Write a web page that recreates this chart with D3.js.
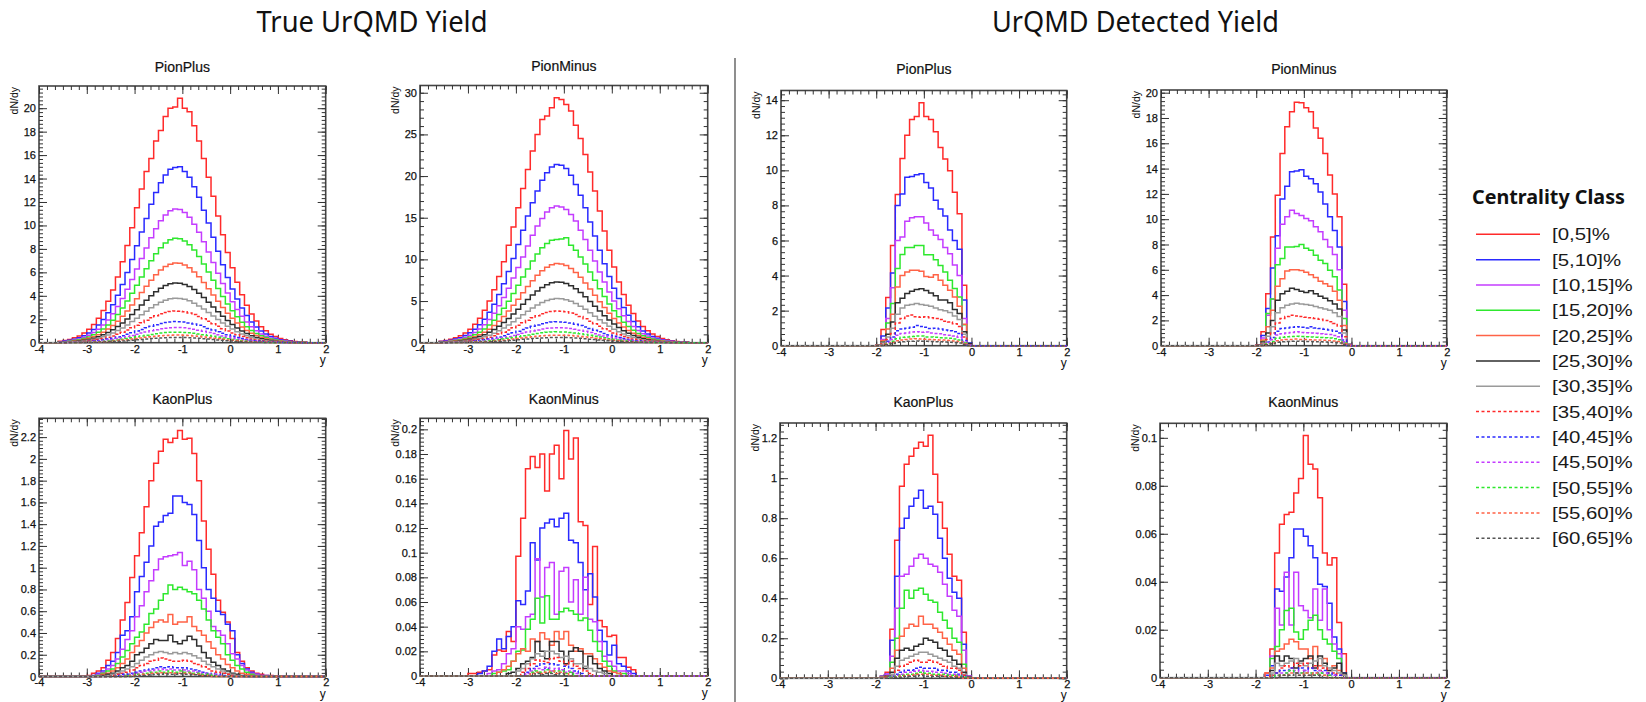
<!DOCTYPE html>
<html>
<head>
<meta charset="utf-8">
<script src="https://cdn.jsdelivr.net/npm/d3@7"></script>
<style>
  html, body { margin: 0; padding: 0; background: #fff; }
  svg { display: block; }
</style>
</head>
<body>
<svg id="chart" width="1646" height="702"></svg>
<script>
// ---------------- data ----------------
const centralityClasses = ["[0,5]%", "[5,10]%", "[10,15]%", "[15,20]%", "[20,25]%", "[25,30]%", "[30,35]%",
                           "[35,40]%", "[40,45]%", "[45,50]%", "[50,55]%", "[55,60]%", "[60,65]%"];
const groupTitles = ["True UrQMD Yield", "UrQMD Detected Yield"];
const panelTitles = ["PionPlus", "PionMinus", "PionPlus", "PionMinus", "KaonPlus", "KaonMinus", "KaonPlus", "KaonMinus"];
const rapidityRange = [-4, 2];
const binWidth = 0.1;
const xTicks = [-4, -3, -2, -1, 0, 1, 2];
const yTickSteps = [2, 5, 2, 2, 0.2, 0.02, 0.2, 0.02];
const xAxisTitle = "y";
const yAxisTitle = "dN/dy";

// true yields, pi+ (bins from y = -3.6, width 0.1)
const truePionPlusStart = -3.6;
const truePionPlus = [
  [0.12,0.19,0.28,0.42,0.58,0.83,1.15,1.56,2.08,2.75,3.54,4.5,5.6,6.9,8.3,9.8,11.5,13.1,14.6,15.7,17.2,18.1,19.3,20.0,20.1,20.85,20.0,19.7,18.5,17.2,15.7,14.1,12.5,10.8,9.2,7.7,6.4,5.15,4.1,3.2,2.45,1.85,1.37,1.02,0.73,0.52,0.35,0.25,0.17,0.1,0.06,0.04],
  [0.09,0.14,0.2,0.3,0.42,0.6,0.83,1.13,1.5,1.98,2.55,3.24,4.05,4.97,5.99,7.1,8.27,9.45,10.6,11.8,12.8,13.65,14.3,14.8,14.95,15.0,14.6,14.1,13.3,12.4,11.3,10.2,9.0,7.8,6.65,5.57,4.59,3.72,2.96,2.31,1.77,1.34,0.99,0.74,0.53,0.38,0.26,0.18,0.12,0.08,0.05,0.03],
  [0.07,0.1,0.15,0.23,0.32,0.46,0.63,0.86,1.14,1.5,1.94,2.46,3.08,3.77,4.55,5.39,6.28,7.18,8.08,8.94,9.71,10.4,10.9,11.25,11.4,11.35,11.1,10.7,10.1,9.42,8.61,7.73,6.83,5.92,5.05,4.23,3.49,2.83,2.25,1.76,1.35,1.01,0.75,0.56,0.4,0.29,0.19,0.14,0.09,0.06,0.03,0.02],
  [0.05,0.08,0.12,0.18,0.25,0.36,0.49,0.67,0.89,1.17,1.51,1.92,2.4,2.95,3.55,4.21,4.9,5.61,6.31,6.98,7.58,8.1,8.5,8.78,8.9,8.86,8.68,8.36,7.9,7.35,6.72,6.03,5.33,4.62,3.94,3.3,2.72,2.21,1.75,1.37,1.05,0.79,0.59,0.44,0.31,0.22,0.15,0.11,0.07,0.04,0.03,0.02],
  [0.04,0.06,0.09,0.14,0.19,0.27,0.37,0.51,0.68,0.9,1.16,1.47,1.84,2.25,2.71,3.22,3.75,4.28,4.82,5.33,5.79,6.19,6.49,6.7,6.8,6.77,6.63,6.39,6.04,5.62,5.13,4.61,4.07,3.53,3.01,2.52,2.08,1.69,1.34,1.05,0.8,0.61,0.45,0.33,0.24,0.17,0.12,0.08,0.05,0.03,0.02,0.01],
  [0.03,0.05,0.07,0.1,0.14,0.2,0.28,0.38,0.51,0.67,0.87,1.1,1.38,1.69,2.03,2.41,2.81,3.21,3.62,4.0,4.35,4.64,4.87,5.03,5.1,5.08,4.97,4.79,4.53,4.21,3.85,3.46,3.05,2.65,2.26,1.89,1.56,1.26,1.0,0.79,0.6,0.45,0.34,0.25,0.18,0.13,0.09,0.06,0.04,0.03,0.02,0.01],
  [0.02,0.03,0.05,0.08,0.11,0.15,0.21,0.29,0.38,0.5,0.65,0.82,1.03,1.26,1.52,1.8,2.09,2.39,2.69,2.98,3.24,3.46,3.63,3.75,3.8,3.78,3.71,3.57,3.37,3.14,2.87,2.58,2.28,1.97,1.68,1.41,1.16,0.94,0.75,0.59,0.45,0.34,0.25,0.19,0.13,0.1,0.06,0.05,0.03,0.02,0.01,0.01],
  [0.02,0.02,0.04,0.05,0.08,0.11,0.15,0.2,0.27,0.36,0.46,0.58,0.73,0.89,1.08,1.28,1.49,1.7,1.91,2.12,2.3,2.46,2.58,2.66,2.7,2.69,2.63,2.54,2.4,2.23,2.04,1.83,1.62,1.4,1.2,1.0,0.83,0.67,0.53,0.42,0.32,0.24,0.18,0.13,0.09,0.07,0.05,0.03,0.02,0.01,0.01,0.01],
  [0.01,0.02,0.02,0.04,0.05,0.07,0.1,0.14,0.18,0.24,0.31,0.39,0.49,0.6,0.72,0.85,0.99,1.13,1.28,1.41,1.53,1.64,1.72,1.77,1.8,1.79,1.76,1.69,1.6,1.49,1.36,1.22,1.08,0.93,0.8,0.67,0.55,0.45,0.35,0.28,0.21,0.16,0.12,0.09,0.06,0.05,0.03,0.02,0.01,0.01,0.01],
  [0.01,0.01,0.02,0.03,0.04,0.05,0.07,0.1,0.13,0.17,0.22,0.28,0.35,0.43,0.52,0.61,0.72,0.82,0.92,1.02,1.11,1.18,1.24,1.28,1.3,1.29,1.27,1.22,1.15,1.07,0.98,0.88,0.78,0.67,0.58,0.48,0.4,0.32,0.26,0.2,0.15,0.12,0.09,0.06,0.05,0.03,0.02,0.02,0.01,0.01],
  [0,0.01,0.01,0.02,0.03,0.04,0.05,0.07,0.09,0.12,0.15,0.19,0.24,0.3,0.36,0.43,0.5,0.57,0.64,0.71,0.77,0.82,0.86,0.89,0.9,0.9,0.88,0.85,0.8,0.74,0.68,0.61,0.54,0.47,0.4,0.33,0.28,0.22,0.18,0.14,0.11,0.08,0.06,0.04,0.03,0.02,0.02,0.01,0.01],
  [0,0,0.01,0.01,0.02,0.03,0.04,0.05,0.07,0.09,0.11,0.14,0.18,0.22,0.26,0.31,0.36,0.41,0.46,0.51,0.55,0.59,0.62,0.64,0.65,0.65,0.63,0.61,0.58,0.54,0.49,0.44,0.39,0.34,0.29,0.24,0.2,0.16,0.13,0.1,0.08,0.06,0.04,0.03,0.02,0.02,0.01,0.01],
  [0,0,0.01,0.01,0.01,0.02,0.02,0.03,0.05,0.06,0.08,0.1,0.12,0.15,0.18,0.21,0.25,0.28,0.32,0.35,0.38,0.41,0.43,0.44,0.45,0.45,0.44,0.42,0.4,0.37,0.34,0.31,0.27,0.23,0.2,0.17,0.14,0.11,0.09,0.07,0.05,0.04,0.03,0.02,0.02,0.01,0.01,0.01]
];

// true yields, pi-
const truePionMinusStart = -3.6;
const truePionMinus = [
  [0.18,0.26,0.4,0.59,0.82,1.17,1.62,2.2,2.94,3.88,5.0,6.35,7.94,9.73,11.7,13.9,16.2,18.5,20.8,23.0,25.0,26.8,27.2,28.2,29.4,29.2,28.6,27.8,26.1,24.5,22.6,20.5,18.2,15.8,13.4,11.1,9.1,7.3,5.8,4.5,3.5,2.6,1.94,1.44,1.03,0.74,0.5,0.35,0.24,0.15,0.09,0.06],
  [0.13,0.19,0.29,0.43,0.6,0.86,1.18,1.61,2.14,2.82,3.64,4.62,5.78,7.08,8.54,10.1,11.8,13.5,15.2,16.8,18.2,19.5,20.4,21.1,21.4,21.3,20.9,20.1,19.0,17.7,16.2,14.5,12.8,11.1,9.48,7.94,6.55,5.31,4.22,3.3,2.53,1.9,1.41,1.05,0.75,0.54,0.36,0.26,0.17,0.11,0.06,0.04],
  [0.1,0.15,0.22,0.33,0.46,0.66,0.9,1.23,1.64,2.16,2.79,3.54,4.43,5.43,6.54,7.76,9.04,10.3,11.6,12.9,14.0,14.9,15.7,16.2,16.4,16.3,16.0,15.4,14.6,13.5,12.4,11.1,9.8,8.5,7.3,6.1,5.0,4.07,3.23,2.53,1.94,1.46,1.08,0.8,0.57,0.41,0.28,0.2,0.13,0.08,0.05,0.03],
  [0.08,0.11,0.17,0.25,0.35,0.5,0.69,0.94,1.25,1.65,2.13,2.7,3.38,4.14,4.99,5.91,6.89,7.88,8.86,9.8,10.65,11.4,11.9,12.3,12.4,12.45,12.6,11.7,11.1,10.3,9.44,8.48,7.49,6.49,5.54,4.64,3.83,3.1,2.46,1.93,1.48,1.11,0.83,0.61,0.44,0.31,0.21,0.15,0.1,0.06,0.04,0.03],
  [0.06,0.09,0.13,0.19,0.27,0.38,0.52,0.71,0.95,1.25,1.62,2.05,2.57,3.14,3.79,4.49,5.23,5.99,6.74,7.45,8.09,8.65,9.07,9.37,9.5,9.46,9.26,8.92,8.44,7.85,7.17,6.44,5.69,4.93,4.21,3.52,2.91,2.36,1.87,1.46,1.12,0.85,0.63,0.47,0.33,0.24,0.16,0.11,0.08,0.05,0.03,0.02],
  [0.04,0.07,0.1,0.15,0.2,0.29,0.4,0.55,0.73,0.96,1.24,1.58,1.97,2.42,2.91,3.45,4.02,4.6,5.18,5.72,6.22,6.64,6.97,7.2,7.3,7.27,7.12,6.85,6.48,6.03,5.51,4.95,4.37,3.79,3.23,2.71,2.23,1.81,1.44,1.12,0.86,0.65,0.48,0.36,0.26,0.18,0.12,0.09,0.06,0.04,0.02,0.01],
  [0.03,0.05,0.07,0.11,0.15,0.21,0.29,0.4,0.53,0.7,0.9,1.14,1.43,1.75,2.11,2.51,2.92,3.34,3.76,4.16,4.52,4.82,5.06,5.23,5.3,5.28,5.17,4.98,4.71,4.38,4.0,3.59,3.17,2.75,2.35,1.97,1.62,1.31,1.04,0.82,0.63,0.47,0.35,0.26,0.19,0.13,0.09,0.06,0.04,0.03,0.02,0.01],
  [0.02,0.03,0.05,0.08,0.11,0.15,0.21,0.29,0.38,0.5,0.65,0.82,1.03,1.26,1.52,1.8,2.09,2.39,2.69,2.98,3.24,3.46,3.63,3.75,3.8,3.78,3.71,3.57,3.37,3.14,2.87,2.58,2.28,1.97,1.68,1.41,1.16,0.94,0.75,0.59,0.45,0.34,0.25,0.19,0.13,0.1,0.06,0.05,0.03,0.02,0.01,0.01],
  [0.02,0.02,0.03,0.05,0.07,0.1,0.14,0.19,0.25,0.33,0.43,0.54,0.68,0.83,1.0,1.18,1.38,1.58,1.77,1.96,2.13,2.28,2.39,2.47,2.5,2.49,2.44,2.35,2.22,2.07,1.89,1.7,1.5,1.3,1.11,0.93,0.77,0.62,0.49,0.39,0.3,0.22,0.17,0.12,0.09,0.06,0.04,0.03,0.02,0.01,0.01,0.01],
  [0.01,0.02,0.02,0.04,0.05,0.07,0.1,0.14,0.18,0.24,0.31,0.39,0.49,0.6,0.72,0.85,0.99,1.13,1.28,1.41,1.53,1.64,1.72,1.77,1.8,1.79,1.76,1.69,1.6,1.49,1.36,1.22,1.08,0.93,0.8,0.67,0.55,0.45,0.35,0.28,0.21,0.16,0.12,0.09,0.06,0.05,0.03,0.02,0.01,0.01,0.01],
  [0.01,0.01,0.02,0.03,0.04,0.05,0.07,0.1,0.13,0.17,0.22,0.28,0.35,0.43,0.52,0.61,0.72,0.82,0.92,1.02,1.11,1.18,1.24,1.28,1.3,1.29,1.27,1.22,1.15,1.07,0.98,0.88,0.78,0.67,0.58,0.48,0.4,0.32,0.26,0.2,0.15,0.12,0.09,0.06,0.05,0.03,0.02,0.02,0.01,0.01],
  [0,0.01,0.01,0.02,0.03,0.04,0.05,0.07,0.09,0.12,0.15,0.19,0.24,0.3,0.36,0.43,0.5,0.57,0.64,0.71,0.77,0.82,0.86,0.89,0.9,0.9,0.88,0.85,0.8,0.74,0.68,0.61,0.54,0.47,0.4,0.33,0.28,0.22,0.18,0.14,0.11,0.08,0.06,0.04,0.03,0.02,0.02,0.01,0.01],
  [0,0,0.01,0.01,0.02,0.03,0.04,0.05,0.07,0.09,0.11,0.14,0.17,0.21,0.25,0.3,0.35,0.4,0.44,0.49,0.53,0.57,0.6,0.62,0.62,0.62,0.61,0.59,0.56,0.52,0.47,0.42,0.37,0.32,0.28,0.23,0.19,0.15,0.12,0.1,0.08,0.06,0.04,0.03,0.02,0.02,0.01,0.01]
];

// true yields, K+ (each row has its own first bin edge)
const trueKaonPlusStart = [-3.1, -2.9, -2.8, -2.8, -2.7, -2.7, -2.6, -2.5, -2.4, -2.3, -2.2, -2.1, -2.0];
const trueKaonPlus = [
  [0.005,0.01,0.03,0.05,0.08,0.15,0.22,0.35,0.52,0.68,0.91,1.11,1.32,1.56,1.8,1.96,2.07,2.18,2.15,2.19,2.26,2.18,2.19,2.05,1.8,1.43,1.17,0.94,0.7,0.59,0.5,0.35,0.22,0.14,0.08,0.05,0.03,0.02,0.01,0.01,0.005],
  [0.01,0.03,0.05,0.1,0.14,0.22,0.38,0.42,0.55,0.78,0.92,1.05,1.2,1.38,1.42,1.48,1.5,1.66,1.66,1.6,1.58,1.49,1.25,1.0,0.8,0.72,0.6,0.57,0.48,0.42,0.2,0.12,0.07,0.04,0.02,0.01,0.01,0.005],
  [0.02,0.04,0.07,0.1,0.16,0.25,0.34,0.42,0.55,0.65,0.78,0.88,0.98,1.08,1.1,1.11,1.12,1.14,1.02,1.06,0.98,0.8,0.72,0.6,0.46,0.42,0.38,0.3,0.21,0.16,0.1,0.06,0.03,0.02,0.01],
  [0.01,0.03,0.05,0.07,0.12,0.18,0.24,0.3,0.36,0.41,0.48,0.58,0.62,0.7,0.76,0.84,0.8,0.82,0.8,0.78,0.76,0.7,0.62,0.52,0.42,0.36,0.3,0.2,0.15,0.1,0.07,0.04,0.02,0.01],
  [0.02,0.03,0.05,0.08,0.12,0.16,0.22,0.28,0.33,0.4,0.45,0.5,0.52,0.5,0.57,0.48,0.5,0.5,0.55,0.46,0.42,0.38,0.32,0.26,0.2,0.16,0.11,0.08,0.05,0.03,0.02,0.01],
  [0.01,0.02,0.03,0.05,0.08,0.1,0.14,0.2,0.22,0.26,0.3,0.34,0.33,0.33,0.38,0.32,0.3,0.33,0.37,0.34,0.28,0.22,0.17,0.13,0.1,0.07,0.05,0.03,0.02,0.01],
  [0.01,0.02,0.03,0.05,0.07,0.09,0.12,0.15,0.18,0.2,0.22,0.23,0.22,0.21,0.22,0.21,0.22,0.21,0.19,0.17,0.14,0.11,0.09,0.07,0.05,0.03,0.02,0.01],
  [0.01,0.02,0.03,0.04,0.06,0.08,0.1,0.12,0.14,0.15,0.17,0.16,0.15,0.14,0.14,0.15,0.14,0.12,0.11,0.09,0.07,0.05,0.04,0.03,0.02,0.01],
  [0.01,0.02,0.02,0.03,0.04,0.05,0.06,0.07,0.08,0.09,0.08,0.09,0.08,0.08,0.08,0.07,0.06,0.05,0.04,0.03,0.02,0.02,0.01],
  [0.01,0.01,0.02,0.03,0.04,0.05,0.05,0.06,0.07,0.06,0.07,0.06,0.06,0.06,0.05,0.05,0.04,0.03,0.02,0.02,0.01],
  [0.01,0.01,0.02,0.02,0.03,0.04,0.04,0.05,0.04,0.05,0.04,0.05,0.04,0.04,0.03,0.03,0.02,0.02,0.01],
  [0.01,0.01,0.02,0.02,0.03,0.03,0.035,0.03,0.035,0.03,0.03,0.03,0.03,0.02,0.02,0.01,0.01],
  [0.005,0.01,0.01,0.015,0.02,0.02,0.025,0.02,0.02,0.025,0.02,0.02,0.015,0.01,0.01,0.005]
];

// true yields, K-
const trueKaonMinusStart = -3.0;
const trueKaonMinus = [
  [0.002,0.002,0.003,0.004,0.005,0.017,0.021,0.02,0.036,0.028,0.097,0.128,0.168,0.178,0.169,0.18,0.15,0.18,0.187,0.16,0.199,0.176,0.193,0.125,0.122,0.058,0.105,0.045,0.04,0.032,0.033,0.015,0.015,0.007,0.005],
  [0,0,0.002,0.004,0.008,0.02,0.03,0.022,0.032,0.04,0.061,0.058,0.069,0.108,0.094,0.12,0.124,0.127,0.121,0.128,0.132,0.11,0.108,0.092,0.07,0.083,0.064,0.037,0.028,0.017,0.025,0.01,0.008,0.004,0.002],
  [0,0,0,0,0.002,0.004,0.005,0.01,0.018,0.022,0.04,0.038,0.048,0.05,0.095,0.064,0.088,0.092,0.05,0.085,0.088,0.06,0.078,0.05,0.08,0.046,0.044,0.028,0.016,0.012,0.008,0.004,0.004,0.002],
  [0,0,0,0,0,0.002,0.003,0.004,0.005,0.012,0.02,0.021,0.038,0.046,0.063,0.043,0.065,0.046,0.046,0.052,0.055,0.053,0.05,0.045,0.047,0.037,0.028,0.02,0.012,0.008,0.004,0.002,0.002],
  [0,0,0,0,0,0,0.003,0.005,0.008,0.012,0.018,0.022,0.02,0.03,0.028,0.035,0.03,0.025,0.036,0.03,0.036,0.025,0.02,0.022,0.018,0.018,0.014,0.01,0.007,0.004,0.003,0.002],
  [0,0,0,0,0,0,0,0,0.002,0.003,0.006,0.01,0.012,0.015,0.028,0.02,0.014,0.028,0.028,0.02,0.01,0.02,0.023,0.02,0.006,0.016,0.01,0.006,0.004,0.002],
  [0,0,0,0,0,0,0,0,0,0,0.004,0.006,0.01,0.014,0.018,0.016,0.02,0.02,0.018,0.015,0.016,0.014,0.01,0.01,0.008,0.006,0.004,0.003,0.002],
  [0,0,0,0,0,0,0,0,0,0,0,0.003,0.006,0.01,0.013,0.012,0.011,0.014,0.015,0.012,0.009,0.012,0.008,0.006,0.004,0.002],
  [0,0,0,0,0,0,0,0,0,0,0,0,0.003,0.006,0.008,0.01,0.006,0.01,0.009,0.005,0.008,0.006,0.004,0.002],
  [0,0,0,0,0,0,0,0,0,0,0,0,0.002,0.004,0.006,0.005,0.007,0.004,0.006,0.005,0.003,0.004,0.002],
  [0,0,0,0,0,0,0,0,0,0,0,0,0,0.003,0.004,0.003,0.005,0.003,0.004,0.004,0.002,0.003],
  [0,0,0,0,0,0,0,0,0,0,0,0,0,0.002,0.003,0.002,0.003,0.004,0.002,0.003,0.002],
  [0,0,0,0,0,0,0,0,0,0,0,0,0,0,0.002,0.001,0.002,0.002,0.001,0.002]
];

// detected yields, pi+ (bins from y = -2.0)
const detPionPlusStart = -2.0;
const detPionPlus = [
  [0.05,0.93,2.75,5.72,8.62,10.68,12.0,12.9,13.07,13.86,13.07,12.9,12.2,11.3,10.64,9.98,8.75,7.52,3.45,0.1],
  [0.03,0.55,2.15,4.15,8.0,8.65,9.6,9.65,9.75,9.8,9.3,9.0,8.3,7.8,7.4,6.6,6.0,5.5,2.6,0.15],
  [0.02,0.35,1.55,3.3,6.0,6.2,7.1,7.3,7.36,7.36,7.0,6.6,6.3,6.05,5.6,5.25,4.6,4.0,1.55,0.1],
  [0.02,0.2,1.3,2.4,4.4,5.2,5.6,5.6,5.72,5.72,5.19,5.19,4.9,4.58,4.2,3.73,3.26,2.78,1.2,0.08],
  [0.01,0.3,0.95,1.8,3.35,4.0,4.2,4.3,4.3,4.25,3.95,3.9,4.05,3.73,3.45,3.16,2.78,2.25,1.23,0.05],
  [0.03,0.2,0.65,1.35,2.45,2.7,2.97,3.1,3.2,3.25,3.15,3.0,2.85,2.6,2.6,2.45,2.06,1.84,0.8,0.12],
  [0.02,0.15,0.5,1.0,1.8,2.15,2.3,2.35,2.4,2.35,2.3,2.25,2.15,2.05,2.0,1.9,1.7,1.5,0.65,0.05],
  [0.01,0.1,0.35,0.7,1.3,1.55,1.7,1.75,1.65,1.62,1.65,1.6,1.55,1.5,1.4,1.35,1.25,1.1,0.5,0.03],
  [0,0.05,0.25,0.5,0.85,0.95,1.0,1.05,1.15,1.1,1.05,0.98,1.0,0.95,0.9,0.85,0.8,0.7,0.3,0.02],
  [0,0.04,0.18,0.35,0.6,0.7,0.72,0.78,0.8,0.76,0.78,0.72,0.7,0.68,0.62,0.6,0.55,0.48,0.22,0.02],
  [0,0.03,0.12,0.25,0.4,0.48,0.5,0.52,0.55,0.55,0.5,0.5,0.48,0.46,0.44,0.42,0.38,0.33,0.15,0.01],
  [0,0.02,0.08,0.18,0.28,0.33,0.36,0.38,0.4,0.38,0.37,0.36,0.34,0.33,0.32,0.3,0.27,0.24,0.1,0.01],
  [0,0.01,0.05,0.12,0.19,0.22,0.25,0.26,0.27,0.26,0.25,0.24,0.23,0.22,0.21,0.2,0.18,0.16,0.07,0.01]
];

// detected yields, pi-
const detPionMinusStart = -2.0;
const detPionMinus = [
  [0.05,1.1,4.1,8.6,11.9,15.2,17.3,18.5,19.25,19.2,18.8,18.5,17.2,16.4,15.2,13.5,12.0,10.2,4.85,0.1],
  [0.03,0.8,2.95,6.15,8.7,11.6,12.6,13.75,13.8,13.9,13.4,13.2,12.8,12.15,11.2,10.2,9.1,7.8,3.5,0.1],
  [0.02,0.6,2.4,3.7,7.7,9.6,10.2,10.7,10.45,10.3,10.05,9.87,9.4,9.0,8.4,7.8,7.2,6.0,2.8,0.08],
  [0.02,0.4,2.55,3.7,6.4,6.9,7.8,7.8,7.85,8.0,7.7,7.55,7.15,6.75,6.5,5.97,5.45,4.4,2.15,0.06],
  [0.02,0.45,1.5,2.8,4.7,5.3,5.9,6.0,6.0,5.95,5.8,5.6,5.4,5.1,4.9,4.7,4.3,3.6,1.6,0.05],
  [0.03,0.3,1.0,2.0,3.6,4.1,4.3,4.55,4.45,4.3,4.2,4.35,4.1,3.9,3.75,3.55,3.3,2.9,1.25,0.1],
  [0.02,0.2,0.75,1.5,2.6,3.0,3.2,3.3,3.35,3.3,3.25,3.2,3.1,3.0,2.9,2.8,2.6,2.3,1.0,0.05],
  [0.01,0.12,0.5,1.0,1.8,2.15,2.3,2.4,2.35,2.3,2.25,2.2,2.15,2.1,2.0,1.9,1.75,1.55,0.7,0.03],
  [0,0.08,0.3,0.65,1.15,1.35,1.4,1.45,1.5,1.45,1.4,1.5,1.4,1.35,1.3,1.25,1.15,1.0,0.45,0.02],
  [0,0.05,0.22,0.48,0.85,0.95,1.0,1.05,1.1,1.05,1.02,1.0,0.98,0.95,0.9,0.88,0.8,0.7,0.32,0.02],
  [0,0.03,0.15,0.33,0.58,0.66,0.7,0.72,0.75,0.73,0.7,0.68,0.66,0.64,0.62,0.6,0.55,0.48,0.22,0.01],
  [0,0.02,0.1,0.22,0.4,0.46,0.49,0.5,0.52,0.5,0.49,0.48,0.46,0.45,0.43,0.41,0.38,0.33,0.15,0.01],
  [0,0.01,0.07,0.16,0.28,0.31,0.34,0.35,0.36,0.35,0.34,0.33,0.32,0.31,0.3,0.28,0.26,0.22,0.1,0.01]
];

// detected yields, K+
const detKaonPlusStart = -2.0;
const detKaonPlus = [
  [0,0.01,0.03,0.245,0.69,0.96,1.07,1.11,1.15,1.18,1.16,1.215,1.02,0.88,0.75,0.62,0.51,0.49,0.23,0.01],
  [0,0.01,0.02,0.19,0.51,0.75,0.8,0.86,0.9,0.94,0.85,0.86,0.82,0.7,0.6,0.5,0.43,0.4,0.17,0.01],
  [0,0.005,0.02,0.11,0.35,0.51,0.52,0.56,0.6,0.62,0.6,0.57,0.56,0.53,0.47,0.41,0.34,0.31,0.14,0.01],
  [0,0.005,0.01,0.08,0.2,0.35,0.44,0.4,0.44,0.45,0.42,0.39,0.38,0.33,0.29,0.25,0.2,0.18,0.07,0.005],
  [0,0.005,0.01,0.05,0.14,0.21,0.25,0.27,0.26,0.31,0.27,0.27,0.25,0.23,0.2,0.17,0.14,0.12,0.05,0.005],
  [0,0,0.01,0.03,0.1,0.14,0.15,0.14,0.16,0.17,0.2,0.19,0.18,0.15,0.14,0.11,0.09,0.07,0.03,0.005],
  [0,0,0.005,0.02,0.06,0.09,0.1,0.11,0.12,0.13,0.13,0.12,0.11,0.1,0.09,0.08,0.06,0.05,0.02],
  [0,0,0.005,0.01,0.04,0.06,0.07,0.08,0.09,0.08,0.08,0.09,0.08,0.07,0.06,0.05,0.05,0.04,0.015],
  [0,0,0,0.01,0.02,0.03,0.04,0.04,0.05,0.055,0.05,0.05,0.05,0.04,0.04,0.03,0.03,0.02,0.01],
  [0,0,0,0.005,0.015,0.02,0.03,0.03,0.035,0.04,0.035,0.035,0.03,0.03,0.025,0.02,0.02,0.015,0.005],
  [0,0,0,0.005,0.01,0.015,0.02,0.02,0.025,0.03,0.025,0.025,0.02,0.02,0.02,0.015,0.015,0.01,0.005],
  [0,0,0,0,0.005,0.01,0.015,0.015,0.02,0.02,0.02,0.015,0.015,0.015,0.01,0.01,0.01,0.005],
  [0,0,0,0,0.005,0.005,0.01,0.01,0.01,0.015,0.01,0.01,0.01,0.01,0.01,0.005,0.005,0.005]
];

// detected yields, K-
const detKaonMinusStart = -2.0;
const detKaonMinus = [
  [0,0,0.002,0.012,0.052,0.064,0.068,0.069,0.077,0.083,0.101,0.089,0.087,0.075,0.052,0.047,0.05,0.023,0.01],
  [0,0,0.001,0.005,0.037,0.036,0.042,0.05,0.062,0.062,0.059,0.055,0.05,0.039,0.038,0.031,0.017,0.012,0.002],
  [0,0,0,0.009,0.029,0.022,0.044,0.022,0.044,0.03,0.028,0.025,0.037,0.024,0.037,0.02,0.014,0.01,0.001],
  [0,0,0,0.008,0.013,0.02,0.028,0.029,0.019,0.016,0.02,0.024,0.026,0.02,0.016,0.014,0.011,0.008,0.001],
  [0,0,0.002,0.004,0.011,0.012,0.014,0.016,0.015,0.012,0.012,0.008,0.013,0.005,0.008,0.003,0.005,0.003,0.001],
  [0,0,0,0.003,0.009,0.007,0.009,0.008,0.004,0.007,0.008,0.009,0.004,0.009,0.006,0.003,0.004,0.006,0.002],
  [0,0,0,0.002,0.006,0.005,0.006,0.007,0.008,0.006,0.005,0.006,0.007,0.008,0.005,0.004,0.003,0.002,0.001],
  [0,0,0,0.001,0.002,0.004,0.005,0.004,0.006,0.005,0.006,0.004,0.005,0.003,0.004,0.002,0.002,0.001],
  [0,0,0,0,0.002,0.003,0.003,0.004,0.002,0.004,0.003,0.004,0.003,0.002,0.003,0.002,0.001,0.001],
  [0,0,0,0,0.001,0.002,0.002,0.003,0.003,0.002,0.003,0.002,0.002,0.003,0.002,0.001,0.001],
  [0,0,0,0,0.001,0.001,0.002,0.003,0.002,0.002,0.002,0.002,0.001,0.002,0.001,0.001],
  [0,0,0,0,0,0.001,0.001,0.002,0.002,0.001,0.002,0.001,0.002,0.001,0.001],
  [0,0,0,0,0,0.001,0.001,0.001,0.002,0.001,0.001,0.001,0.001,0.001]
];

// ---------------- styles & layout ----------------
const seriesColors = ["#ff2a2a", "#2a2aff", "#c43cff", "#2ee82e", "#ff6347", "#2e2e2e", "#9a9a9a",
                      "#ff2a2a", "#2a2aff", "#c43cff", "#2ee82e", "#ff6347", "#555555"];
const solidCount = 7;
const FONT = "'Liberation Sans', Arial, Helvetica, sans-serif";
const HEAD_FONT = "'Noto Sans', 'Open Sans', sans-serif";

const panelRows = [truePionPlus, truePionMinus, detPionPlus, detPionMinus,
                   trueKaonPlus, trueKaonMinus, detKaonPlus, detKaonMinus];
const panelStarts = [truePionPlusStart, truePionMinusStart, detPionPlusStart, detPionMinusStart,
                     trueKaonPlusStart, trueKaonMinusStart, detKaonPlusStart, detKaonMinusStart];

const panelFrames = [
  { x0: 39,   x1: 325.7,  y0: 86,    y1: 342.7, ty: 67 },
  { x0: 420,  x1: 707.7,  y0: 85.5,  y1: 342.7, ty: 66 },
  { x0: 781,  x1: 1066.7, y0: 90.5,  y1: 345.7, ty: 69.5 },
  { x0: 1161, x1: 1446.7, y0: 90,    y1: 345.7, ty: 69.5 },
  { x0: 39,   x1: 325.7,  y0: 418.3, y1: 676.5, ty: 399.5 },
  { x0: 420,  x1: 707.7,  y0: 418.3, y1: 676,   ty: 399.5 },
  { x0: 780,  x1: 1066.7, y0: 423,   y1: 678.3, ty: 402 },
  { x0: 1160, x1: 1446.7, y0: 423.3, y1: 677.7, ty: 402 }
];

const nBins = Math.round((rapidityRange[1] - rapidityRange[0]) / binWidth);
const fmt = d => String(+(+d).toFixed(6));

function fillBins(start, values) {
  const bins = new Array(nBins).fill(0);
  const offset = Math.round((start - rapidityRange[0]) / binWidth);
  values.forEach((v, i) => { const k = offset + i; if (k >= 0 && k < nBins) bins[k] = v; });
  return bins;
}

function styleAxis(sel) {
  sel.select(".domain").remove();
  sel.selectAll("line").attr("stroke", "#333").attr("stroke-width", 1);
  sel.selectAll("text").attr("font-family", FONT).attr("font-size", 11).attr("fill", "#111")
    .attr("stroke", "#111").attr("stroke-width", 0.25);
}

const svg = d3.select("#chart");

// group headings and separator
svg.append("text").attr("x", 372).attr("y", 32).attr("text-anchor", "middle")
  .attr("font-family", HEAD_FONT).attr("font-size", 29).attr("fill", "#111")
  .attr("textLength", 231).attr("lengthAdjust", "spacingAndGlyphs").text(groupTitles[0]);
svg.append("text").attr("x", 1135.5).attr("y", 32).attr("text-anchor", "middle")
  .attr("font-family", HEAD_FONT).attr("font-size", 29).attr("fill", "#111")
  .attr("textLength", 287).attr("lengthAdjust", "spacingAndGlyphs").text(groupTitles[1]);
svg.append("line").attr("x1", 735).attr("x2", 735).attr("y1", 58).attr("y2", 702)
  .attr("stroke", "#444").attr("stroke-width", 1.2);

const xMinor = d3.range(0, 37).map(k => rapidityRange[0] + k / 6);

panelFrames.forEach((f, p) => {
  const starts = panelStarts[p];
  const series = panelRows[p].map((vals, i) => fillBins(Array.isArray(starts) ? starts[i] : starts, vals));
  const ymax = 1.05 * d3.max(series, s => d3.max(s));

  const x = d3.scaleLinear().domain(rapidityRange).range([f.x0, f.x1]);
  const y = d3.scaleLinear().domain([0, ymax]).range([f.y1, f.y0]);
  const g = svg.append("g");

  // frame
  g.append("rect").attr("x", f.x0).attr("y", f.y0).attr("width", f.x1 - f.x0).attr("height", f.y1 - f.y0)
    .attr("fill", "none").attr("stroke", "#444").attr("stroke-width", 1.6);

  // ticks on all four sides, pointing inwards
  const step = yTickSteps[p];
  const yDiv = step === 5 ? 5 : 6;
  const yMajor = d3.range(Math.floor(ymax / step + 1e-9) + 1).map(k => +(k * step).toFixed(6));
  const yMinor = d3.range(Math.floor(ymax / (step / yDiv) + 1e-9) + 1).map(k => +(k * step / yDiv).toFixed(8));

  g.append("g").attr("transform", `translate(0,${f.y1})`)
    .call(d3.axisBottom(x).tickValues(xTicks).tickSize(-8).tickPadding(2).tickFormat(fmt)).call(styleAxis);
  g.append("g").attr("transform", `translate(0,${f.y1})`)
    .call(d3.axisBottom(x).tickValues(xMinor).tickSize(-4).tickFormat("")).call(styleAxis);
  g.append("g").attr("transform", `translate(0,${f.y0})`)
    .call(d3.axisTop(x).tickValues(xTicks).tickSize(-8).tickFormat("")).call(styleAxis);
  g.append("g").attr("transform", `translate(0,${f.y0})`)
    .call(d3.axisTop(x).tickValues(xMinor).tickSize(-4).tickFormat("")).call(styleAxis);
  g.append("g").attr("transform", `translate(${f.x0},0)`)
    .call(d3.axisLeft(y).tickValues(yMajor).tickSize(-8).tickPadding(3).tickFormat(fmt)).call(styleAxis);
  g.append("g").attr("transform", `translate(${f.x0},0)`)
    .call(d3.axisLeft(y).tickValues(yMinor).tickSize(-4).tickFormat("")).call(styleAxis);
  g.append("g").attr("transform", `translate(${f.x1},0)`)
    .call(d3.axisRight(y).tickValues(yMajor).tickSize(-8).tickFormat("")).call(styleAxis);
  g.append("g").attr("transform", `translate(${f.x1},0)`)
    .call(d3.axisRight(y).tickValues(yMinor).tickSize(-4).tickFormat("")).call(styleAxis);

  // histograms, one step line per centrality class
  const line = d3.line().x(d => x(d[0])).y(d => y(d[1])).curve(d3.curveStepAfter);
  series.forEach((bins, i) => {
    const pts = bins.map((c, k) => [rapidityRange[0] + k * binWidth, c]);
    pts.push([rapidityRange[1], bins[bins.length - 1]]);
    g.append("path").attr("d", line(pts)).attr("fill", "none")
      .attr("stroke", seriesColors[i]).attr("stroke-width", 1.5)
      .attr("stroke-dasharray", i >= solidCount ? "3,2" : null);
  });

  // titles
  g.append("text").attr("x", (f.x0 + f.x1) / 2).attr("y", f.ty).attr("dy", "0.35em")
    .attr("text-anchor", "middle").attr("font-family", FONT).attr("font-size", 14).attr("fill", "#111")
    .attr("stroke", "#111").attr("stroke-width", 0.2)
    .text(panelTitles[p]);
  g.append("text").attr("x", f.x1).attr("y", f.y1 + 21).attr("text-anchor", "end")
    .attr("font-family", FONT).attr("font-size", 12).attr("fill", "#111").text(xAxisTitle);
  g.append("text").attr("transform", `translate(${f.x0 - 21},${f.y0 + 1}) rotate(-90)`)
    .attr("text-anchor", "end").attr("font-family", FONT).attr("font-size", 10.5).attr("fill", "#111")
    .text(yAxisTitle);
});

// legend
const legend = svg.append("g");
legend.append("text").attr("x", 1472).attr("y", 204).attr("font-family", HEAD_FONT)
  .attr("font-weight", "bold").attr("font-size", 20).attr("fill", "#111")
  .attr("textLength", 153).attr("lengthAdjust", "spacingAndGlyphs").text("Centrality Class");
centralityClasses.forEach((c, i) => {
  const ly = 234.3 + i * 25.33;
  legend.append("line").attr("x1", 1476).attr("x2", 1540).attr("y1", ly).attr("y2", ly)
    .attr("stroke", seriesColors[i]).attr("stroke-width", 1.5)
    .attr("stroke-dasharray", i >= solidCount ? "3,2.5" : null);
  const t = legend.append("text").attr("x", 1552).attr("y", ly).attr("dy", "0.35em")
    .attr("font-family", FONT).attr("font-size", 17).attr("fill", "#1a1a1a").text(c);
  const w = t.node().getComputedTextLength();
  t.attr("textLength", w * 1.2).attr("lengthAdjust", "spacingAndGlyphs");
});
</script>
</body>
</html>
